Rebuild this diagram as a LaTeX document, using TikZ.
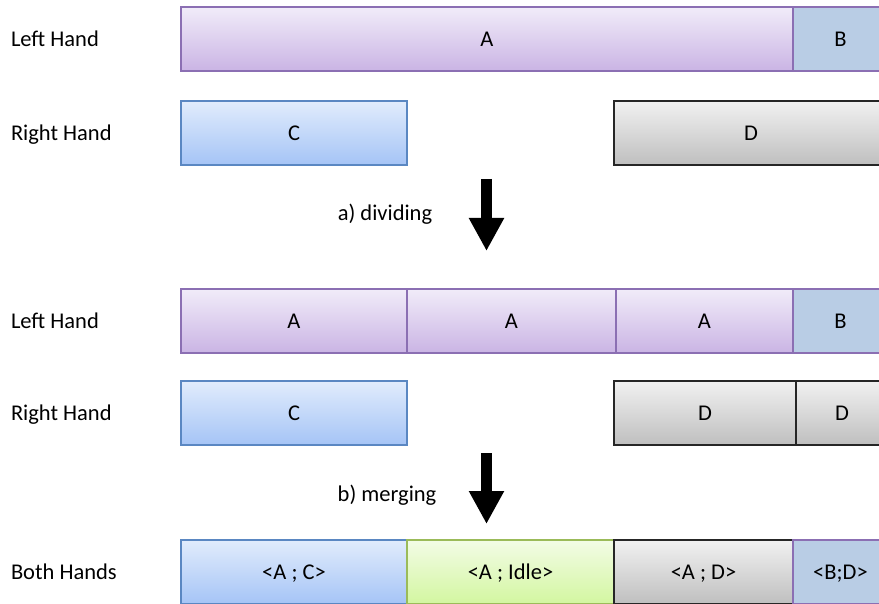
\documentclass[tikz,border=0pt]{standalone}
\usepackage{fontspec}
\setmainfont{Carlito}
\usetikzlibrary{positioning}
\usetikzlibrary{arrows.meta}

\definecolor{lilacline}{HTML}{8B6FB3}
\definecolor{lilactop}{HTML}{F1ECF9}
\definecolor{lilacbot}{HTML}{CAB4E4}
\definecolor{skyline}{HTML}{5A87C2}
\definecolor{skytop}{HTML}{E1ECFC}
\definecolor{skybot}{HTML}{A5C4F6}
\definecolor{steelfill}{HTML}{B9CDE5}
\definecolor{greytop}{HTML}{F1F1F1}
\definecolor{greybot}{HTML}{BFBFBF}
\definecolor{limeline}{HTML}{9BBB59}
\definecolor{limetop}{HTML}{F3FCE6}
\definecolor{limebot}{HTML}{D3F6A0}

\begin{document}
\begin{tikzpicture}
[x=1pt,y=-1pt,line width=1.1pt,%
  every node/.style={outer sep=0pt,inner sep=0pt,text height=14.5pt,text depth=0pt,%
    font=\fontsize{22.5}{27}\selectfont},%
  slot/.style={rectangle,draw,minimum height=64pt,anchor=north west},%
  lilac/.style={slot,draw=lilacline,top color=lilactop,bottom color=lilacbot},%
  sky/.style={slot,draw=skyline,top color=skytop,bottom color=skybot},%
  steel/.style={slot,draw=lilacline,fill=steelfill},%
  grey/.style={slot,draw=black!85,top color=greytop,bottom color=greybot},%
  lime/.style={slot,draw=limeline,top color=limetop,bottom color=limebot},%
  hand/.style={anchor=west},%
  bigdown/.style={line width=11pt,-{Triangle[length=33pt,width=33pt]}}]
\useasboundingbox (0,0) rectangle (879,604);

% before
\node[hand] (lh1) at (11,39) {Left Hand};
\node[hand] (rh1) at (11,133) {Right Hand};
\node[lilac,minimum width=612pt] (A1) at (181,7) {A};
\node[steel,minimum width=95pt,right=0pt of A1] (B1) {B};
\node[sky,minimum width=226pt] (C1) at (181,101) {C};
\node[grey,minimum width=274pt] (D1) at (614,101) {D};

\coordinate (top1) at (486.5,179);
\coordinate (tip1) at (486.5,251);
\draw[bigdown] (top1) -- (tip1);
\node (dividing) at (385,213.5) {a) dividing};

% after dividing
\node[hand] (lh2) at (11,321) {Left Hand};
\node[hand] (rh2) at (11,413) {Right Hand};
\node[lilac,minimum width=226pt] (A2) at (181,289) {A};
\node[lilac,minimum width=209pt,right=0pt of A2] (A3) {A};
\node[lilac,minimum width=177pt,right=0pt of A3] (A4) {A};
\node[steel,minimum width=95pt,right=0pt of A4] (B2) {B};
\node[sky,minimum width=226pt] (C2) at (181,381) {C};
\node[grey,minimum width=182pt] (D2) at (614,381) {D};
\node[grey,minimum width=92pt,right=0pt of D2] (D3) {D};

\coordinate (top2) at (486.5,453);
\coordinate (tip2) at (486.5,524);
\draw[bigdown] (top2) -- (tip2);
\node (merging) at (387,494.5) {b) merging};

% after merging
\node[hand] (bh) at (11,572) {Both Hands};
\node[sky,minimum width=226pt] (AC) at (181,540) {<A ; C>};
\node[lime,minimum width=207pt,right=0pt of AC] (AI) {<A ; Idle>};
\node[grey,minimum width=179pt,right=0pt of AI] (AD) {<A ; D>};
\node[steel,minimum width=95pt,right=0pt of AD] (BD) {<B;D>};
\end{tikzpicture}
\end{document}
